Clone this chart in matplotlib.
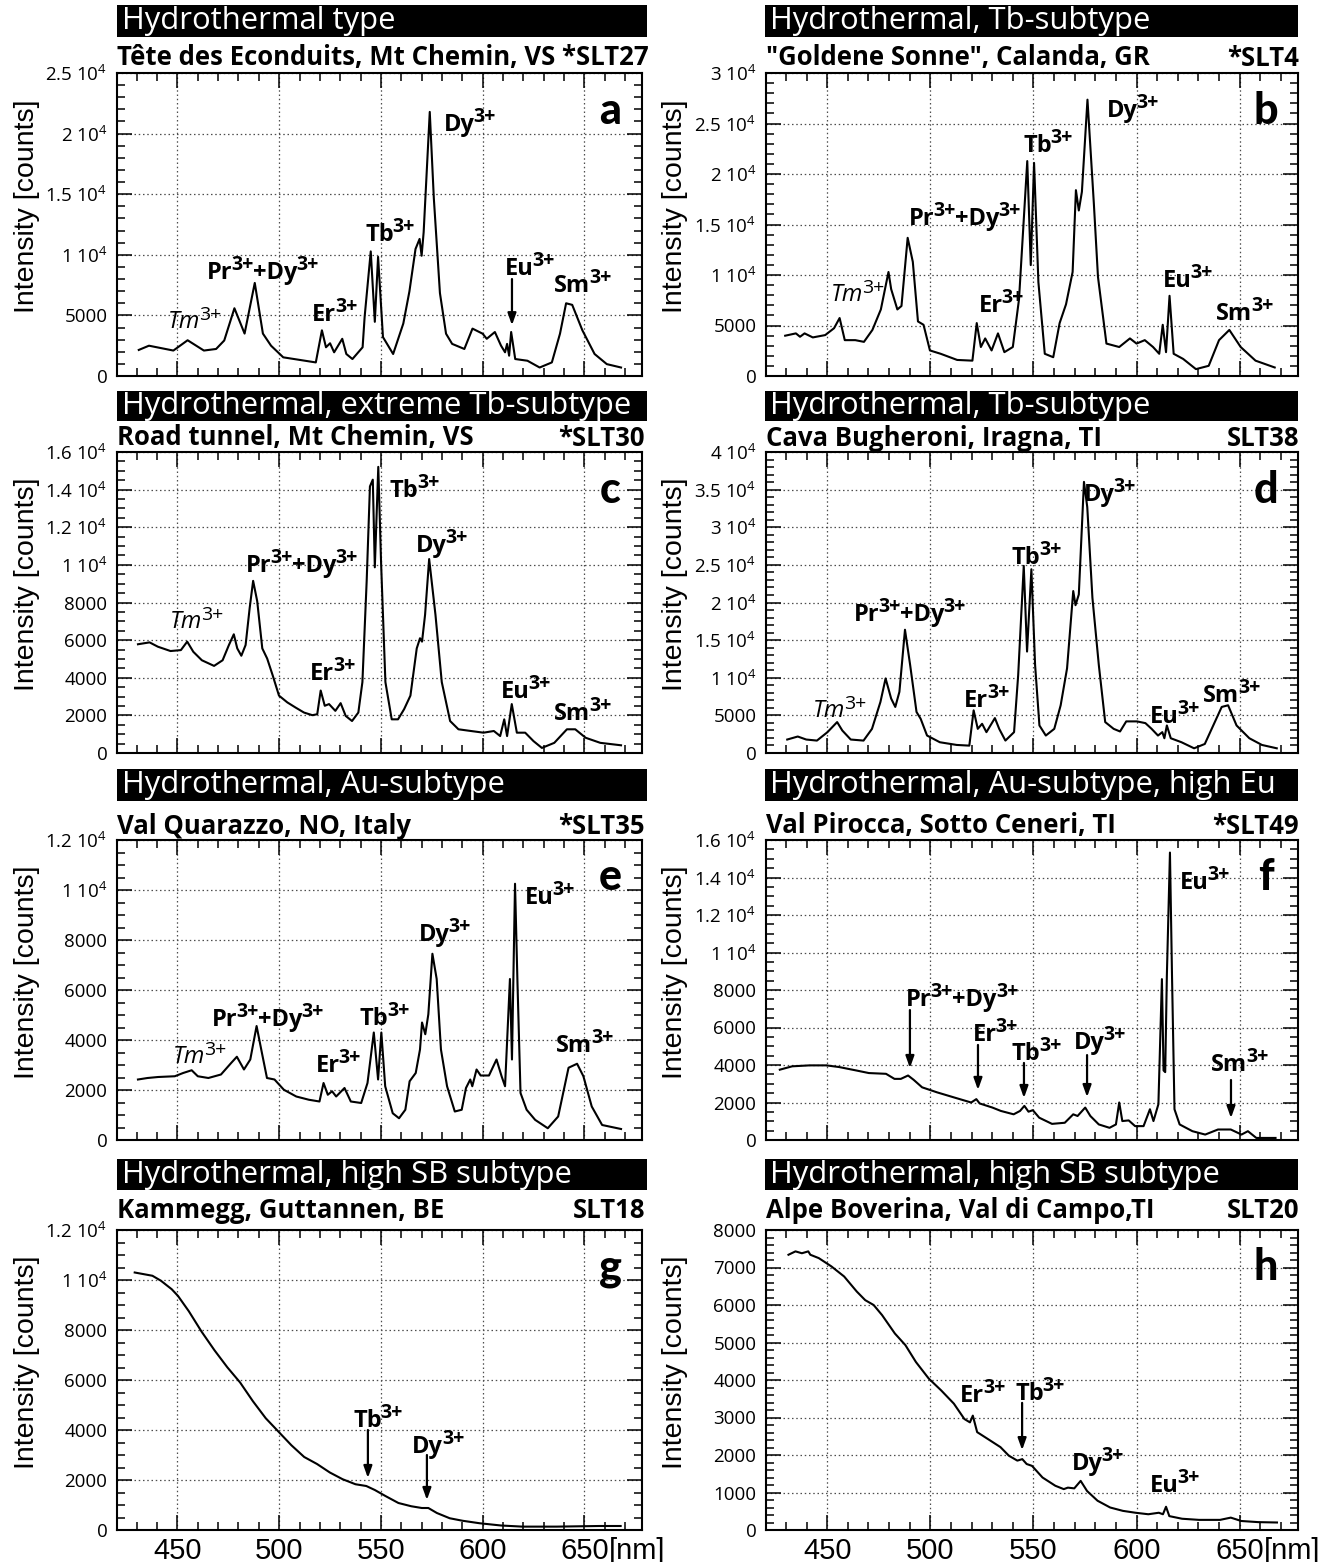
import matplotlib
matplotlib.use('Agg')
import matplotlib.pyplot as plt
from matplotlib import font_manager as fm
from matplotlib.patches import Rectangle
from matplotlib.ticker import MultipleLocator, FuncFormatter
from matplotlib.transforms import ScaledTranslation, Bbox


def has_font(name):
    try:
        fm.findfont(fm.FontProperties(family=name), fallback_to_default=False)
        return True
    except Exception:
        return False


NARROW = 'Liberation Sans Narrow' if has_font('Liberation Sans Narrow') else 'Liberation Sans'
HUMAN = 'Open Sans' if has_font('Open Sans') else 'DejaVu Sans'
HEAVY = 'Lato' if has_font('Lato') else HUMAN

plt.rcParams['font.family'] = [HUMAN, 'DejaVu Sans']
plt.rcParams['mathtext.fontset'] = 'custom'
plt.rcParams['mathtext.rm'] = HUMAN
plt.rcParams['mathtext.bf'] = HUMAN + ':bold'
plt.rcParams['mathtext.it'] = HUMAN + ':italic'

# ---------------- data (wavelength [nm], intensity [counts]) ----------------
wl_a = [431, 436, 448, 455, 463, 469, 473, 478, 483, 488, 492, 496, 502, 518, 521, 523, 525, 527, 531, 533,
        536, 541, 542, 545, 547, 548.6, 551, 556, 561, 564, 567, 569, 570, 571, 574, 576, 579, 582, 585, 591,
        595, 600, 602, 606, 609, 611, 612, 613, 614, 616, 622, 628, 634, 638, 641, 644, 649, 655, 661, 668]
int_a = [2150, 2500, 2100, 2950, 2100, 2230, 2930, 5590, 3500, 7680, 3500, 2500, 1540, 1120, 3770, 2370, 2700, 1955, 3070, 1815,
         1400, 2370, 4890, 10280, 4470, 9830, 3210, 1815, 4330, 6980, 10480, 11310, 9920, 11870, 21790, 14660, 6840, 3490, 2650, 2230,
         3910, 3490, 3070, 3630, 2510, 1955, 2650, 1676, 3630, 1400, 1260, 700, 1120, 3490, 6000, 5870, 3770, 1815, 980, 700]

wl_b = [429.6, 434.8, 436.8, 439, 443, 449, 453.3, 456, 458.5, 463.6, 467.8, 471.9, 476, 479.7, 481, 484, 486, 489, 491.5, 494,
        496.7, 499.8, 505, 513, 520.4, 522.5, 524.5, 526.6, 529.7, 532.8, 535.9, 540, 543, 547, 548.7, 550.3, 552.4, 555.5, 559.6, 562.7,
        565.8, 569, 570.6, 572, 573.5, 576.2, 579.3, 581.3, 585.4, 591.6, 596.8, 600, 604, 608, 611, 612.7, 614.3, 616, 618, 622.6,
        628.8, 635, 640, 645, 650.5, 657.7, 667]
int_b = [3990, 4220, 3885, 4220, 3820, 4050, 4730, 5740, 3550, 3550, 3380, 4560, 6590, 10300, 8600, 6590, 6930, 13680, 11300, 5400,
         5070, 2530, 2200, 1590, 1520, 5240, 2870, 3720, 2530, 4220, 2360, 2870, 7600, 21280, 10980, 21100, 9290, 2200, 1860, 5240,
         7100, 10300, 18400, 16390, 18240, 27360, 17060, 9800, 3210, 2870, 3720, 3210, 3550, 2870, 2200, 5070, 2360, 7940, 2200, 1690,
         680, 1010, 3550, 4560, 2870, 1520, 845]

wl_c = [430.6, 436.3, 440.4, 446.6, 451.7, 454.8, 457.8, 462, 468, 472.2, 475.3, 477.7, 479.4, 481.4, 483.5, 485.5, 487.2, 489.2, 491.7, 494.1,
        496.8, 499.9, 504, 508, 512.2, 516.3, 518.7, 520.4, 522.4, 524.5, 527.6, 530.2, 532.7, 535.8, 538.9, 540.9, 543, 544.6, 546, 547,
        548.7, 550.1, 552.2, 555.3, 558.4, 561.4, 564.5, 567.6, 569.2, 570.2, 571.7, 573.7, 576.8, 579.9, 584, 588.1, 594.2, 600.4, 605.5, 608.6,
        610.6, 612, 614.3, 616.8, 620.9, 625, 629.1, 635.2, 641.4, 645.5, 650.6, 657.8, 668]
int_c = [5780, 5880, 5650, 5420, 5470, 5920, 5380, 4930, 4630, 4930, 5740, 6310, 5560, 5170, 5740, 7710, 9150, 8070, 5560, 5020,
         4130, 3050, 2690, 2420, 2150, 2010, 2060, 3320, 2510, 2600, 2240, 2650, 1970, 1700, 2150, 3770, 9150, 14170, 14530, 9870,
         15210, 10040, 3770, 1790, 1790, 2330, 3050, 5560, 6100, 5920, 7350, 10310, 7350, 3770, 1700, 1260, 1170, 1080, 1170, 900,
         1790, 900, 2600, 1080, 1080, 630, 270, 540, 1260, 1260, 810, 540, 410]

wl_d = [430.6, 435.7, 439.8, 445, 450.1, 454.8, 457.3, 461.4, 467.6, 471.7, 475.8, 478.3, 481, 483, 485, 487.7, 490.2, 493.3, 495.3, 498.4,
        504.6, 512.8, 518.9, 521, 523, 525.1, 527.2, 531.3, 533.4, 536.4, 540.6, 542.6, 545.3, 546.9, 549, 550.8, 552.9, 556, 560.1, 563.2,
        566.3, 569.3, 570.4, 572, 574.5, 576.1, 578.6, 581.7, 584.8, 588.9, 592, 595, 600.2, 604.3, 607.3, 610.4, 612.5, 613.5, 614.7, 616.6,
        621.8, 627.9, 633.1, 637.2, 641.3, 644.4, 648.5, 654.7, 660.8, 668]
int_d = [1790, 2190, 1790, 1650, 2770, 4110, 2990, 1790, 1650, 3210, 6790, 9910, 7230, 6120, 8130, 16380, 11700, 5450, 4550, 2320,
         1430, 1070, 980, 5670, 3210, 3880, 2770, 4640, 3210, 1650, 2770, 10360, 24870, 13480, 24420, 11700, 3660, 2320, 3210, 6340,
         11250, 21520, 19640, 21070, 36030, 32680, 20630, 11700, 4110, 3210, 2860, 4200, 4200, 3970, 3210, 2320, 2770, 1960, 3660, 1960,
         1430, 625, 1200, 3660, 6120, 6340, 3660, 1960, 1070, 625]

wl_e = [430.6, 435.3, 440.5, 448.7, 452.8, 457, 460, 465.2, 471.4, 476.5, 479.2, 482.7, 485.8, 488.9, 491.5, 494, 497.7, 502.3, 508.4, 514.6,
        519.8, 521.8, 523.9, 526, 528, 532.1, 535.2, 540.3, 543.4, 546.5, 548.6, 550.2, 552.1, 555.8, 558.9, 562, 564.1, 567.1, 569.2, 570.2,
        571.8, 573.3, 575.3, 577.4, 579.5, 582.5, 586.3, 589.7, 591.8, 593.9, 594.9, 597, 599, 603.1, 606.8, 609.3, 611, 613.4, 614.4, 615.9,
        617.1, 618.6, 621.6, 625.8, 632, 637.1, 642.2, 646.4, 649.5, 653.6, 658.7, 668]
int_e = [2420, 2480, 2520, 2550, 2680, 2790, 2550, 2480, 2620, 3090, 3330, 2820, 3220, 4560, 3490, 2480, 2420, 2010, 1740, 1610,
         1540, 2280, 1810, 1950, 1740, 2080, 1540, 1480, 2280, 4300, 2420, 4300, 2150, 1070, 870, 1210, 2350, 2680, 3620, 4700,
         4230, 5030, 7450, 6440, 3620, 2150, 1140, 1210, 2080, 2420, 2150, 2820, 2580, 2580, 3220, 2550, 2150, 6440, 3220, 10250,
         6300, 1880, 1210, 805, 470, 940, 2890, 3050, 2550, 1340, 600, 440]

wl_f = [427, 433, 441.4, 449.6, 455.8, 464, 470.2, 478.5, 482.6, 485.7, 489.2, 491.9, 496, 503.3, 511.5, 519.8, 522.3, 523.9, 530.1, 534.2,
        540.4, 543.5, 545.6, 547.6, 549.7, 552.8, 559, 565.2, 569.3, 571.4, 575.1, 577.6, 581.7, 586.9, 590, 591.6, 593.1, 596.2, 599.3, 603.4,
        606.5, 608.2, 610.6, 612.3, 613.1, 613.9, 614.7, 616.2, 617.2, 618.4, 620.9, 627.1, 633.3, 639.5, 645.7, 650.9, 654, 658.1, 667.4]
int_f = [3750, 3930, 3980, 3980, 3890, 3710, 3570, 3530, 3260, 3260, 3440, 3210, 2810, 2540, 2270, 2000, 2180, 1950, 1730, 1550,
         1370, 1550, 1820, 1510, 1590, 1190, 860, 920, 1370, 1280, 1730, 1280, 830, 650, 830, 2000, 1010, 1045, 740, 740,
         1640, 1010, 1910, 8580, 3710, 3620, 8760, 15330, 8760, 1640, 830, 470, 290, 560, 560, 290, 470, 110, 110]

wl_g = [429, 437.7, 441.9, 447.2, 450.3, 455.6, 461.9, 468.2, 474.5, 480.8, 487.1, 493.4, 499.7, 506, 512.3, 518.6, 524.9, 531.2, 537.5, 542.8,
        547, 552.2, 558.6, 564.9, 570.1, 573.3, 577.5, 583.8, 590.1, 598.5, 609, 619.5, 636.3, 657.3, 667.8]
int_g = [10300, 10170, 9970, 9630, 9360, 8750, 7930, 7190, 6510, 5900, 5150, 4470, 3930, 3390, 2920, 2640, 2300, 2030, 1830, 1760,
         1600, 1360, 1080, 950, 880, 880, 680, 470, 370, 270, 180, 135, 135, 160, 160]

wl_h = [431.2, 434.6, 437.7, 440.8, 441.8, 445.9, 452, 458.2, 464.3, 468.4, 472.5, 476.6, 482.8, 487.9, 493, 499.2, 505.3, 511.4, 516.5, 519.2,
        520.6, 522.7, 527.8, 534, 538.1, 542.2, 544.6, 546.7, 549.3, 554.4, 560.6, 564.7, 566.7, 569.8, 572.9, 576, 581.1, 587.2, 593.4, 599.5,
        605.7, 610.8, 612.8, 614.3, 615.9, 622.1, 630.3, 640.5, 645.7, 650.8, 659, 668.1]
int_h = [7340, 7430, 7380, 7430, 7340, 7250, 7030, 6760, 6360, 6130, 6000, 5730, 5240, 4930, 4480, 4040, 3720, 3370, 2960, 2870,
         3050, 2610, 2430, 2210, 1980, 1850, 1890, 1760, 1710, 1400, 1180, 1090, 1130, 1110, 1310, 1040, 780, 600, 510, 460,
         420, 460, 420, 620, 370, 300, 270, 270, 330, 240, 210, 200]

letters = ['a', 'b', 'c', 'd', 'e', 'f', 'g', 'h']
titles = ['Hydrothermal type', 'Hydrothermal, Tb-subtype',
          'Hydrothermal, extreme Tb-subtype', 'Hydrothermal, Tb-subtype',
          'Hydrothermal, Au-subtype', 'Hydrothermal, Au-subtype, high Eu',
          'Hydrothermal, high SB subtype', 'Hydrothermal, high SB subtype']
localities = ['Tête des Econduits, Mt Chemin, VS *SLT27', '"Goldene Sonne", Calanda, GR',
              'Road tunnel, Mt Chemin, VS', 'Cava Bugheroni, Iragna, TI',
              'Val Quarazzo, NO, Italy', 'Val Pirocca, Sotto Ceneri, TI',
              'Kammegg, Guttannen, BE', 'Alpe Boverina, Val di Campo,TI']
samples = ['', '*SLT4', '*SLT30', 'SLT38', '*SLT35', '*SLT49', 'SLT18', 'SLT20']
ymax = [25000, 30000, 16000, 40000, 12000, 16000, 12000, 8000]
ymajor = [5000, 5000, 2000, 5000, 2000, 2000, 2000, 1000]
yminor = [1000, 1000, 500, 1000, 500, 500, 500, 200]
xticks = [450, 500, 550, 600, 650]

# ion labels: lists of (text, is_superscript)
TM = [('Tm', False), ('3+', True)]
PRDY = [('Pr', False), ('3+', True), ('+Dy', False), ('3+', True)]
DY = [('Dy', False), ('3+', True)]
TB = [('Tb', False), ('3+', True)]
ER = [('Er', False), ('3+', True)]
EU = [('Eu', False), ('3+', True)]
SM = [('Sm', False), ('3+', True)]

# label, centre x [nm], centre y [counts]
labels = [
    [(TM, 458.6, 4620), (PRDY, 492, 8750), (ER, 527.4, 5280), (TB, 554.5, 11880), (DY, 593.8, 20960), (EU, 623.3, 9080), (SM, 649.3, 7670)],
    [(TM, 464.9, 8220), (PRDY, 516.8, 15840), (ER, 534.3, 7230), (TB, 557.1, 23070), (DY, 598.3, 26530), (EU, 625, 9700), (SM, 652.6, 6440)],
    [(TM, 459.6, 7070), (PRDY, 511.2, 10100), (ER, 526.4, 4360), (TB, 566.7, 14090), (DY, 580, 11160), (EU, 621.3, 3400), (SM, 649.3, 2230)],
    [(TM, 456.2, 5850), (PRDY, 490.1, 18740), (ER, 527.5, 7310), (TB, 551.7, 26310), (DY, 587.1, 34680), (EU, 618.6, 5180), (SM, 646.3, 7970)],
    [(TM, 461.1, 3400), (PRDY, 494.5, 4920), (ER, 529, 3080), (TB, 552, 4960), (DY, 581.5, 8320), (EU, 633.1, 9800), (SM, 650.3, 3880)],
    [(PRDY, 515.4, 7630), (ER, 531.4, 5760), (TB, 551.7, 4750), (DY, 582.3, 5330), (EU, 633.2, 13870), (SM, 650.2, 4160)],
    [(TB, 548.6, 4480), (DY, 578.1, 3440)],
    [(ER, 525.5, 3650), (TB, 553.2, 3710), (DY, 581.3, 1840), (EU, 618.6, 1250)],
]
# arrow x [nm], start y, end y [counts]
arrows = [
    [(614.4, 8000, 4190)],
    [],
    [],
    [],
    [],
    [(490.1, 6930, 3840), (523.1, 5070, 2670), (545.4, 4110, 2240), (576, 4530, 2290), (645.8, 3200, 1170)],
    [(543.6, 4000, 2080), (572.6, 3000, 1200)],
    [(544.5, 3390, 2130)],
]
spectra = [(wl_a, int_a), (wl_b, int_b), (wl_c, int_c), (wl_d, int_d),
           (wl_e, int_e), (wl_f, int_f), (wl_g, int_g), (wl_h, int_h)]

# ---------------- layout (pixels) ----------------
W, H = 1321, 1562
col_l = [117, 766]
col_r = [642, 1298]
row_t = [73, 452, 840, 1230]
row_b = [376, 753, 1140, 1530]
bar_l = [117, 765]
bar_r = [647, 1298]
bar_y = [(5, 37), (391, 421), (769, 801), (1159, 1190)]
sub_y = [58, 438, 826, 1210]
sub_r = [645, 1299]

LAB_FS = 17
SUP_FS = 14

fig = plt.figure(figsize=(W / 100, H / 100), dpi=100)


def yfmt(v, pos):
    if v < 10000:
        return '%d' % v
    return '%g 10$^{4}$' % (v / 1e4)


def ion_label(ax, parts, x, y, italic_first=False):
    arts = []
    prev = None
    for k, (txt, is_sup) in enumerate(parts):
        italic = italic_first and k == 0
        weight = 'normal' if italic_first else 'bold'
        style = 'italic' if italic else 'normal'
        if prev is None:
            t = ax.text(x, y, txt, ha='left', va='center', fontsize=LAB_FS,
                        fontweight=weight, style=style)
        else:
            dy = 0.45 * LAB_FS if is_sup else -0.45 * LAB_FS
            dx = -0.8 if is_sup else -0.3
            t = ax.annotate(txt, xy=(1, 0), xycoords=prev, xytext=(dx, dy),
                            textcoords='offset points', ha='left', va='bottom',
                            fontsize=SUP_FS if is_sup else LAB_FS,
                            fontweight=weight, style='normal')
        arts.append(t)
        prev = t
    return arts


all_labels = []
axes = []
for i in range(8):
    r, c = divmod(i, 2)
    L, R, T, B = col_l[c], col_r[c], row_t[r], row_b[r]
    ax = fig.add_axes([L / W, 1 - B / H, (R - L) / W, (B - T) / H])
    axes.append(ax)
    wl, inten = spectra[i]
    ax.plot(wl, inten, color='black', lw=1.5, solid_joinstyle='round')
    ax.set_xlim(420.3, 678.3)
    ax.set_ylim(0, ymax[i])
    ax.xaxis.set_major_locator(MultipleLocator(50))
    ax.xaxis.set_minor_locator(MultipleLocator(10))
    ax.yaxis.set_major_locator(MultipleLocator(ymajor[i]))
    ax.yaxis.set_minor_locator(MultipleLocator(yminor[i]))
    ax.yaxis.set_major_formatter(FuncFormatter(yfmt))
    ax.tick_params(which='both', direction='in', top=True, right=True, width=1.1, color='black')
    ax.tick_params(which='major', length=11, pad=7, labelsize=13.5)
    ax.tick_params(which='minor', length=6)
    for s in ax.spines.values():
        s.set_linewidth(1.5)
    ax.grid(True, which='major', linestyle=(0, (1.2, 2.2)), color='0.3', lw=0.9)
    ax.set_axisbelow(True)
    ax.set_ylabel('Intensity [counts]', fontsize=20.5, family=NARROW, labelpad=0)
    ax.yaxis.set_label_coords(-0.147, 0.56)
    if r < 3:
        ax.tick_params(labelbottom=False)
    else:
        ax.set_xticks(xticks)
        ax.set_xticklabels([str(v) for v in xticks], fontsize=21, family=NARROW)
        ax.tick_params(axis='x', which='major', pad=5)
    for parts, x, y in labels[i]:
        arts = ion_label(ax, parts, x, y, italic_first=(parts is TM))
        all_labels.append((ax, x, y, arts))
    for x, y0, y1 in arrows[i]:
        ax.annotate('', xy=(x, y1), xytext=(x, y0),
                    arrowprops=dict(arrowstyle='-|>,head_length=0.7,head_width=0.25',
                                    color='black', lw=1.6, shrinkA=0, shrinkB=0))
    ax.text(0.94, 0.875, letters[i], transform=ax.transAxes, ha='center', va='center',
            fontsize=31, fontweight='black', family=[HEAVY, 'DejaVu Sans'])

    # title bar
    y0, y1 = bar_y[r]
    fig.add_artist(Rectangle((bar_l[c] / W, 1 - y1 / H), (bar_r[c] - bar_l[c]) / W, (y1 - y0) / H,
                             transform=fig.transFigure, facecolor='black', edgecolor='none'))
    fig.text((bar_l[c] + 5) / W, 1 - (y0 + y1) / 2 / H, titles[i], color='white',
             fontsize=22.3, ha='left', va='center')
    # locality / sample line
    fig.text(L / W, 1 - sub_y[r] / H, localities[i], fontsize=18.5, fontweight='bold',
             ha='left', va='center')
    if samples[i]:
        fig.text(sub_r[c] / W, 1 - sub_y[r] / H, samples[i], fontsize=18.5, fontweight='bold',
                 ha='right', va='center')

# centre the composed ion labels on their anchor points
fig.canvas.draw()
renderer = fig.canvas.get_renderer()
for ax, x, y, arts in all_labels:
    bb = Bbox.union([a.get_window_extent(renderer) for a in arts])
    px, py = ax.transData.transform((x, y))
    dx = (px - (bb.x0 + bb.x1) / 2) / fig.dpi
    dy = (py - (bb.y0 + bb.y1) / 2) / fig.dpi
    arts[0].set_transform(ax.transData + ScaledTranslation(dx, dy, fig.dpi_scale_trans))

# "[nm]" after the 650 tick label
for ax in axes[6:]:
    for lab in ax.get_xticklabels():
        if lab.get_text() == '650':
            bb = lab.get_window_extent(renderer)
            fig.text(bb.x1 / fig.bbox.width, bb.y0 / fig.bbox.height, '[nm]',
                     fontsize=21, family=NARROW, ha='left', va='bottom')

fig.savefig('out.png', dpi=100)
